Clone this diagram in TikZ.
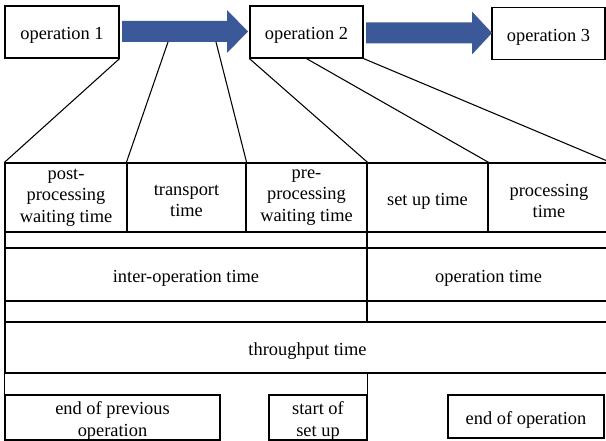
\documentclass[tikz,border=0pt]{standalone}
\usepackage{fontspec}
\setmainfont{Liberation Serif}
\usetikzlibrary{positioning,calc}
\definecolor{arrowblue}{RGB}{59,89,152}
% #1 left end, #2 middle height, #3 start of head, #4 tip
\newcommand{\fatarrow}[4]{%
  \fill[arrowblue] (#1,#2-10.5) -- (#3,#2-10.5) -- (#3,#2-21.5) -- (#4,#2)
    -- (#3,#2+21.5) -- (#3,#2+10.5) -- (#1,#2+10.5) -- cycle;}

\begin{document}
\begin{tikzpicture}[
      x=0.75pt, y=-0.75pt,
      font=\rmfamily\fontsize{13.8}{16}\selectfont,
      cell/.style={draw, line width=0.9pt, align=center, inner sep=0pt},
      low/.style={label={[inner sep=0pt, yshift=-2.7pt, align=center]center:#1}},
      lnk/.style={draw, line width=0.8pt}
    ]
    \clip (0,0) rectangle (606,441);
    \fill[white] (0,0) rectangle (606,441);
    % operations
    \node[cell, minimum width=85.5pt, minimum height=39pt, low={operation 1}] (op1) at (62,32) {};
    \node[cell, minimum width=84.75pt, minimum height=39pt, low={operation 2}] (op2) at (306.5,32) {};
    \node[cell, minimum width=84.75pt, minimum height=39pt, low={operation 3}] (op3) at (548.5,33.5) {};
    \fatarrow{122}{31.5}{227}{248}
    \fatarrow{366}{33}{472}{492}
    \coordinate (a1) at (168,42);
    \coordinate (a2) at (216,42);
    % time elements
    \node[cell, minimum width=91.5pt, minimum height=51.75pt] (post) at (66,197.5) {post-\\processing\\waiting time};
    \node[cell, minimum width=89.25pt, minimum height=51.75pt, low={transport\\time}] (trans) at (186.5,197.5) {};
    \node[cell, minimum width=90.75pt, minimum height=51.75pt] (pre) at (306.5,197.5) {pre-\\processing\\waiting time};
    \node[cell, minimum width=90.75pt, minimum height=51.75pt, low={set up time}] (setup) at (427.5,197.5) {};
    \node[cell, minimum width=91.5pt, minimum height=51.75pt, low={processing\\time}] (proc) at (549,197.5) {};
    % sums
    \node[cell, minimum width=271.5pt, minimum height=12pt] (gapl1) at (186,240) {};
    \node[cell, minimum width=182.25pt, minimum height=12pt] (gapr1) at (488.5,240) {};
    \node[cell, minimum width=271.5pt, minimum height=39.75pt, low={inter-operation time}] (inter) at (186,274.5) {};
    \node[cell, minimum width=182.25pt, minimum height=39.75pt, low={operation time}] (optime) at (488.5,274.5) {};
    \node[cell, minimum width=271.5pt, minimum height=15.75pt] (gapl2) at (186,311.5) {};
    \node[cell, minimum width=182.25pt, minimum height=15.75pt] (gapr2) at (488.5,311.5) {};
    \node[cell, minimum width=453.75pt, minimum height=38.25pt, low={throughput time}] (thru) at (307.5,347.5) {};
    % events
    \node[cell, minimum width=161.25pt, minimum height=33.75pt, low={end of previous\\operation}] (endprev) at (112.5,417.5) {};
    \node[cell, minimum width=73.5pt, minimum height=33.75pt, low={start of\\set up}] (startsu) at (318,417.5) {};
    \node[cell, minimum width=117pt, minimum height=32.25pt, low={end of operation}] (endop) at (526,416.5) {};
    \draw[lnk] (thru.south west) -- (endprev.south west);
    \draw[lnk] (gapl2.south east |- thru.south) -- (startsu.south east);
    % breakdown lines
    \draw[lnk] (op1.south east) -- (post.north west);
    \draw[lnk] (a1) -- (trans.north west);
    \draw[lnk] (a2) -- (trans.north east);
    \draw[lnk] (op2.south west) -- (pre.north east);
    \draw[lnk] (op2.south) -- (setup.north east);
    \draw[lnk] (op2.south east) -- (proc.north east);
\end{tikzpicture}
\end{document}
